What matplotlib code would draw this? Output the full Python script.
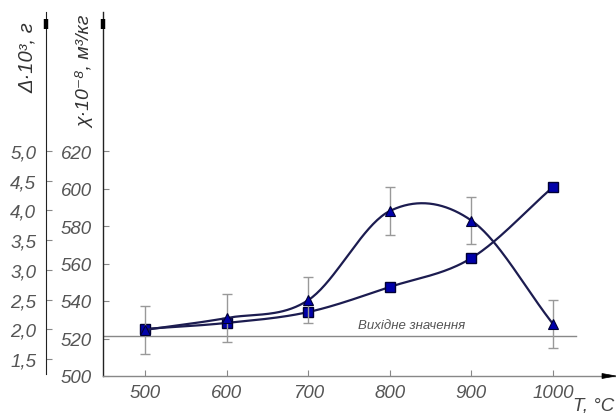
import numpy as np
import matplotlib
matplotlib.use("Agg")
import matplotlib.pyplot as plt
from matplotlib.patches import Polygon

plt.rcParams['font.family'] = ['Liberation Sans', 'DejaVu Sans']

# ---- data ----
temps = [500, 600, 700, 800, 900, 1000]
chi_vals = [525.1, 528.3, 534.1, 547.5, 562.9, 600.8]      # squares, x10^-8 m3/kg
delta_vals = [1.99, 2.19, 2.49, 3.99, 3.83, 2.09]          # triangles, x10^3 g
delta_err = [0.40, 0.41, 0.39, 0.40, 0.39, 0.41]
baseline_chi = 521.5
baseline_label = "Вихідне значення"
x_ticks = [500, 600, 700, 800, 900, 1000]
chi_ticks = [500, 520, 540, 560, 580, 600, 620]
delta_ticks = [1.5, 2.0, 2.5, 3.0, 3.5, 4.0, 4.5, 5.0]


def catmull_rom(x, y, n=40):
    x = np.asarray(x, float); y = np.asarray(y, float)
    k = len(x)
    m = np.empty(k)
    m[0] = (y[1] - y[0]) / (x[1] - x[0])
    m[-1] = (y[-1] - y[-2]) / (x[-1] - x[-2])
    for i in range(1, k - 1):
        m[i] = (y[i + 1] - y[i - 1]) / (x[i + 1] - x[i - 1])
    xs_all, ys_all = [], []
    for i in range(k - 1):
        h = x[i + 1] - x[i]
        t = np.linspace(0, 1, n)
        h00 = 2 * t**3 - 3 * t**2 + 1
        h10 = t**3 - 2 * t**2 + t
        h01 = -2 * t**3 + 3 * t**2
        h11 = t**3 - t**2
        xs_all.append(x[i] + t * h)
        ys_all.append(h00 * y[i] + h10 * h * m[i] + h01 * y[i + 1] + h11 * h * m[i + 1])
    return np.concatenate(xs_all), np.concatenate(ys_all)


W, H = 616, 414
fig = plt.figure(figsize=(W / 100, H / 100), dpi=100)
x0, x1, y_bot, y_top = 103, 615, 377, 13
ax = fig.add_axes([x0 / W, (H - y_bot) / H, (x1 - x0) / W, (y_bot - y_top) / H])

# x scale: 500 at px 145, 1000 at px 553
pxu = (553 - 145) / 500
ax.set_xlim(500 - (145 - x0) / pxu, 1000 + (x1 - 553) / pxu)
# chi scale: 500 at 377, 620 at 152
cpu = (377 - 152) / 120
ax.set_ylim(500, 500 + (y_bot - y_top) / cpu)

ax2 = ax.twinx()
ax2.set_position(ax.get_position())
dpu = (360 - 152) / 3.5
ax2.set_ylim(5.0 - (y_bot - 152) / dpu, 5.0 + (152 - y_top) / dpu)

tick_color = '#555555'
fs = 13.5
for a in (ax, ax2):
    for s in ('top', 'right', 'bottom', 'left'):
        a.spines[s].set_visible(False)
    a.patch.set_visible(False)

ax.spines['left'].set_visible(True)
ax.spines['left'].set_color('#222222')
ax.spines['left'].set_linewidth(1.0)
ax.spines['bottom'].set_visible(True)
ax.spines['bottom'].set_color('#888888')
ax.spines['bottom'].set_linewidth(1.0)

ax2.yaxis.set_ticks_position('left')
ax2.yaxis.set_label_position('left')
ax2.spines['left'].set_visible(True)
ax2.spines['left'].set_position(('axes', -(x0 - 46) / (x1 - x0)))
ax2.spines['left'].set_color('#222222')
ax2.spines['left'].set_bounds(ax2.get_ylim()[0] + 0.03, ax2.get_ylim()[1])

ax.set_xticks(x_ticks)
ax.set_xticklabels([str(t) for t in x_ticks])
ax.set_yticks(chi_ticks)
ax.set_yticklabels([str(t) for t in chi_ticks])
ax2.set_yticks(delta_ticks)
ax2.set_yticklabels([f"{t:.1f}".replace('.', ',') for t in delta_ticks])

ax.tick_params(axis='x', direction='in', length=4, color='#888888', pad=6,
               labelsize=fs, labelcolor=tick_color)
ax.tick_params(axis='y', direction='in', length=4, color='#888888', pad=8,
               labelsize=fs, labelcolor=tick_color)
ax2.tick_params(axis='y', direction='in', length=4, color='#888888', pad=7,
                labelsize=fs, labelcolor=tick_color)
for lab in ax.get_xticklabels() + ax.get_yticklabels() + ax2.get_yticklabels():
    lab.set_fontstyle('italic')

# baseline
ax.axhline(baseline_chi, xmin=0, xmax=(576 - x0) / (x1 - x0), color='#888888', lw=1.0, zorder=1)
ax.text(500 + (412 - 145) / pxu, baseline_chi + 2.5, baseline_label, fontsize=9.5, style='italic',
        color='#555555', ha='center', va='bottom')

line_col = '#1c1c50'
face = '#0000aa'
edge = '#000033'

xs, ys = catmull_rom(temps, chi_vals)
ax.plot(xs, ys, color=line_col, lw=1.6, zorder=3)
ax.plot(temps, chi_vals, ls='none', marker='s', ms=7, mfc=face, mec=edge, mew=1.0, zorder=5)

ax2.errorbar(temps, delta_vals, yerr=delta_err, fmt='none', ecolor='#999999',
             elinewidth=1.0, capsize=3.6, capthick=1.0, zorder=2)
xs2, ys2 = catmull_rom(temps, delta_vals)
ax2.plot(xs2, ys2, color=line_col, lw=1.6, zorder=3)
ax2.plot(temps, delta_vals, ls='none', marker='^', ms=7.5, mfc=face, mec=edge, mew=0.8, zorder=5)

# arrowheads on axes
def fy(py):
    return (H - py) / H

for px in (46, 103):
    fig.add_artist(plt.Line2D([px / W, px / W], [fy(20), fy(30)], color='black', lw=3.2,
                              solid_capstyle='butt'))
fig.add_artist(Polygon([[602 / W, fy(374.5)], [616 / W, fy(377)], [602 / W, fy(379.5)]],
                       closed=True, facecolor='black', edgecolor='black', lw=0.5,
                       transform=fig.transFigure))

# axis labels
fig.text(27 / W, fy(58), "Δ·10³, г", rotation=90, ha='center', va='center',
         fontsize=14.5, style='italic', color='#333333')
fig.text(85 / W, fy(72), "χ·10⁻⁸, м³/кг", rotation=90, ha='center', va='center',
         fontsize=14, style='italic', color='#333333')
fig.text(594 / W, fy(406), "T, °C", ha='center', va='center', fontsize=13.5,
         style='italic', color='#444444')

fig.savefig("out.png", dpi=100)
